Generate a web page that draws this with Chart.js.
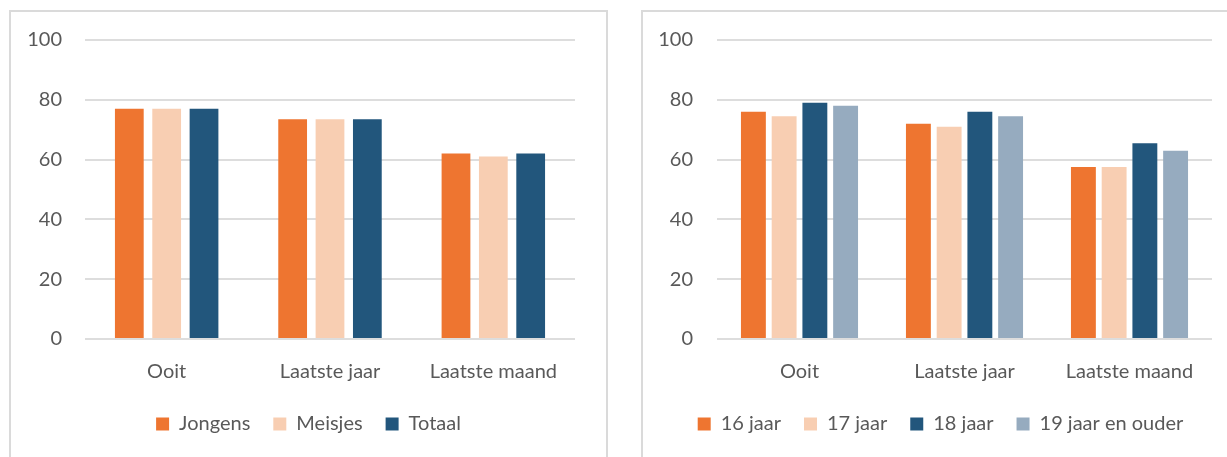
<!DOCTYPE html>
<html>
<head>
<meta charset="utf-8">
<script src="https://cdn.jsdelivr.net/npm/chart.js@4/dist/chart.umd.min.js"></script>
<style>
  html, body { margin: 0; padding: 0; background: #fff; overflow: hidden; }
  .panel { position: absolute; top: 10px; width: 595px; height: 450px; border: 2px solid #DADADA; }
  #leftPanel { left: 9px; }
  #rightPanel { left: 641px; }
  canvas { display: block; }
</style>
</head>
<body>
<div class="panel" id="leftPanel"><canvas id="leftChart" width="595" height="450"></canvas></div>
<div class="panel" id="rightPanel"><canvas id="rightChart" width="595" height="450"></canvas></div>
<script>
const categories = ["Ooit", "Laatste jaar", "Laatste maand"];
const yTicks = [0, 20, 40, 60, 80, 100];

// left chart: gender
const genderLabels = ["Jongens", "Meisjes", "Totaal"];
const jongens = [77, 73.5, 62];
const meisjes = [77, 73.5, 61];
const totaal = [77, 73.5, 62];

// right chart: age
const ageLabels = ["16 jaar", "17 jaar", "18 jaar", "19 jaar en ouder"];
const age16 = [76, 72, 57.5];
const age17 = [74.5, 71, 57.5];
const age18 = [79, 76, 65.5];
const age19 = [78, 74.5, 63];

const ORANGE = "#EE7530";
const PEACH = "#F8CEB2";
const NAVY = "#22567C";
const GREYBLUE = "#96ABBF";
const TEXT = "#595959";
const FONT = "Lato, 'Open Sans', sans-serif";

Chart.defaults.font.family = FONT;
Chart.defaults.color = TEXT;

function makeChart(id, seriesList, names, colors, barPct, catPct, yWidth, yPad, padRight) {
  const ctx = document.getElementById(id).getContext("2d");
  return new Chart(ctx, {
    type: "bar",
    data: {
      labels: categories,
      datasets: seriesList.map((values, i) => ({
        label: names[i],
        data: values,
        backgroundColor: colors[i],
        borderWidth: 0,
        barPercentage: barPct,
        categoryPercentage: catPct
      }))
    },
    options: {
      responsive: false,
      animation: false,
      layout: { padding: { top: 28, right: 0, bottom: 18, left: 0 } },
      plugins: {
        tooltip: { enabled: false },
        legend: {
          position: "bottom",
          labels: {
            boxWidth: 13,
            boxHeight: 13,
            padding: 23,
            color: TEXT,
            font: { size: 20 }
          }
        }
      },
      scales: {
        x: {
          grid: { display: false },
          border: { display: false },
          ticks: { padding: 13, color: TEXT, font: { size: 20 } },
          afterFit: (s) => {
            s.height = 52;
            s.paddingRight = padRight; // keep plot off the right edge, legend stays full width
          }
        },
        y: {
          min: 0,
          max: 100,
          afterBuildTicks: (s) => { s.ticks = yTicks.map(v => ({ value: v })); },
          grid: { color: "#DDDDDD", lineWidth: 2, drawTicks: false },
          border: { display: false },
          ticks: { padding: yPad, color: TEXT, font: { size: 20 } },
          afterFit: (s) => {
            s.width = yWidth;
            s.paddingTop = 0;
            s.paddingBottom = 0;
          }
        }
      }
    }
  });
}

makeChart("leftChart", [jongens, meisjes, totaal], genderLabels,
  [ORANGE, PEACH, NAVY], 0.77, 0.686, 74, 23, 31);

makeChart("rightChart", [age16, age17, age18, age19], ageLabels,
  [ORANGE, PEACH, NAVY, GREYBLUE], 0.81, 0.745, 74, 24, 26);
</script>
</body>
</html>
